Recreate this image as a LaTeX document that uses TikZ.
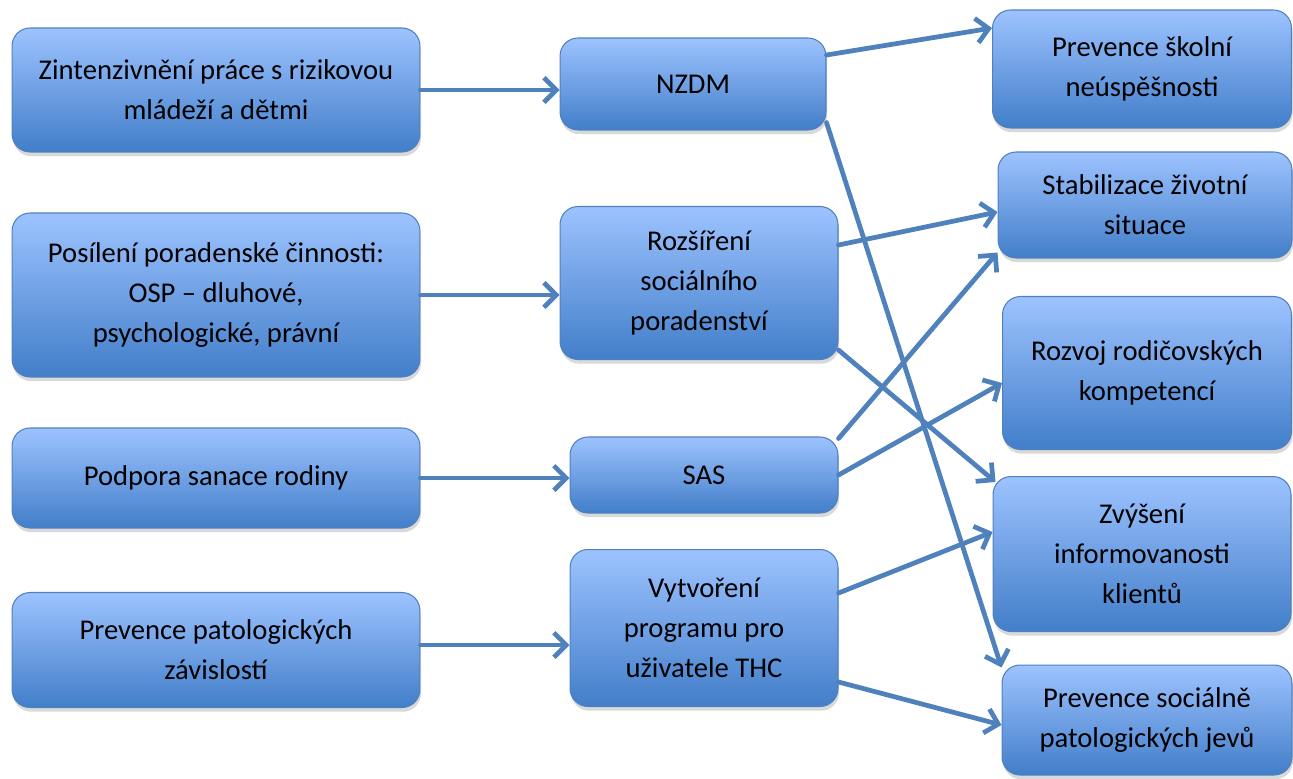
\documentclass[tikz,border=0pt]{standalone}
\usepackage{fontspec}
\setmainfont{Carlito}
\usepackage{xcolor}
\usetikzlibrary{arrows.meta}
\usetikzlibrary{shadows}

\definecolor{boxtop}{RGB}{157,195,255}
\definecolor{boxbottom}{RGB}{66,126,201}
\definecolor{boxline}{RGB}{79,129,189}

\begin{document}
\begin{tikzpicture}[x=0.02cm,y=-0.02cm,
        box/.style={rectangle,rounded corners=0.36cm,draw=boxline,line width=0.6pt,
            top color=boxtop,bottom color=boxbottom,align=center,inner sep=2pt,
            font=\fontsize{16.3}{22.8}\selectfont,
            drop shadow={opacity=0.3,shadow xshift=0.6pt,shadow yshift=-2.4pt}},
        link/.style={draw=boxline,line width=2.7pt,line cap=round,
            -{Straight Barb[length=7pt,width=14pt,line width=2.7pt]}}]
    \useasboundingbox (0,0) rectangle (1293,778);

    % left column
    \node[box,minimum width=8.16cm,minimum height=2.48cm] (zint) at (216,90) {Zintenzivnění práce s rizikovou\\mládeží a dětmi};
    \node[box,minimum width=8.16cm,minimum height=3.28cm] (posil) at (216,295) {Posílení poradenské činnosti:\\OSP -- dluhové,\\psychologické, právní};
    \node[box,minimum width=8.16cm,minimum height=2.0cm] (sanace) at (216,478) {Podpora sanace rodiny};
    \node[box,minimum width=8.16cm,minimum height=2.3cm] (zavis) at (216,650) {Prevence patologických\\závislostí};

    % middle column
    \node[box,minimum width=5.32cm,minimum height=1.84cm] (nzdm) at (693,84) {NZDM};
    \node[box,minimum width=5.56cm,minimum height=3.06cm] (porad) at (699,283) {Rozšíření\\sociálního\\poradenství};
    \node[box,minimum width=5.36cm,minimum height=1.52cm] (sas) at (704,475) {SAS};
    \node[box,minimum width=5.36cm,minimum height=3.14cm] (thc) at (704,628) {Vytvoření\\programu pro\\uživatele THC};

    % right column
    \node[box,minimum width=5.98cm,minimum height=2.36cm] (skol) at (1142,69) {Prevence školní\\neúspěšnosti};
    \node[box,minimum width=5.88cm,minimum height=2.12cm] (stab) at (1145,205) {Stabilizace životní\\situace};
    \node[box,minimum width=5.78cm,minimum height=3.06cm] (rodic) at (1147,373) {Rozvoj rodičovských\\kompetencí};
    \node[box,minimum width=5.96cm,minimum height=3.1cm] (info) at (1142,554) {Zvýšení\\informovanosti\\klientů};
    \node[box,minimum width=5.8cm,minimum height=2.2cm] (socpat) at (1147,720) {Prevence sociálně\\patologických jevů};

    % left -> middle
    \draw[link] (zint.east) -- (zint.east -| nzdm.west);
    \draw[link] (posil.east) -- (posil.east -| porad.west);
    \draw[link] (sanace.east) -- (sanace.east -| sas.west);
    \draw[link] ([yshift=0.1cm]zavis.east) -- ([yshift=0.1cm]zavis.east -| thc.west);

    % middle -> right
    \draw[link] ([yshift=0.58cm]nzdm.east) -- ([yshift=0.82cm]skol.west);
    \draw[link] ([yshift=0.16cm]nzdm.south east) -- ([yshift=-0.06cm]socpat.north west);
    \draw[link] ([yshift=0.76cm]porad.east) -- ([yshift=-0.14cm]stab.west);
    \draw[link] ([yshift=0.2cm]porad.south east) -- ([xshift=0.06cm,yshift=-0.12cm]info.north west);
    \draw[link] ([yshift=-0.04cm]sas.north east) -- ([yshift=0.12cm]stab.south west);
    \draw[link] (sas.east) -- ([yshift=-0.2cm]rodic.west);
    \draw[link] ([yshift=0.7cm]thc.east) -- ([yshift=0.44cm]info.west);
    \draw[link] ([yshift=-1.08cm]thc.east) -- ([yshift=-0.1cm]socpat.west);
\end{tikzpicture}
\end{document}
